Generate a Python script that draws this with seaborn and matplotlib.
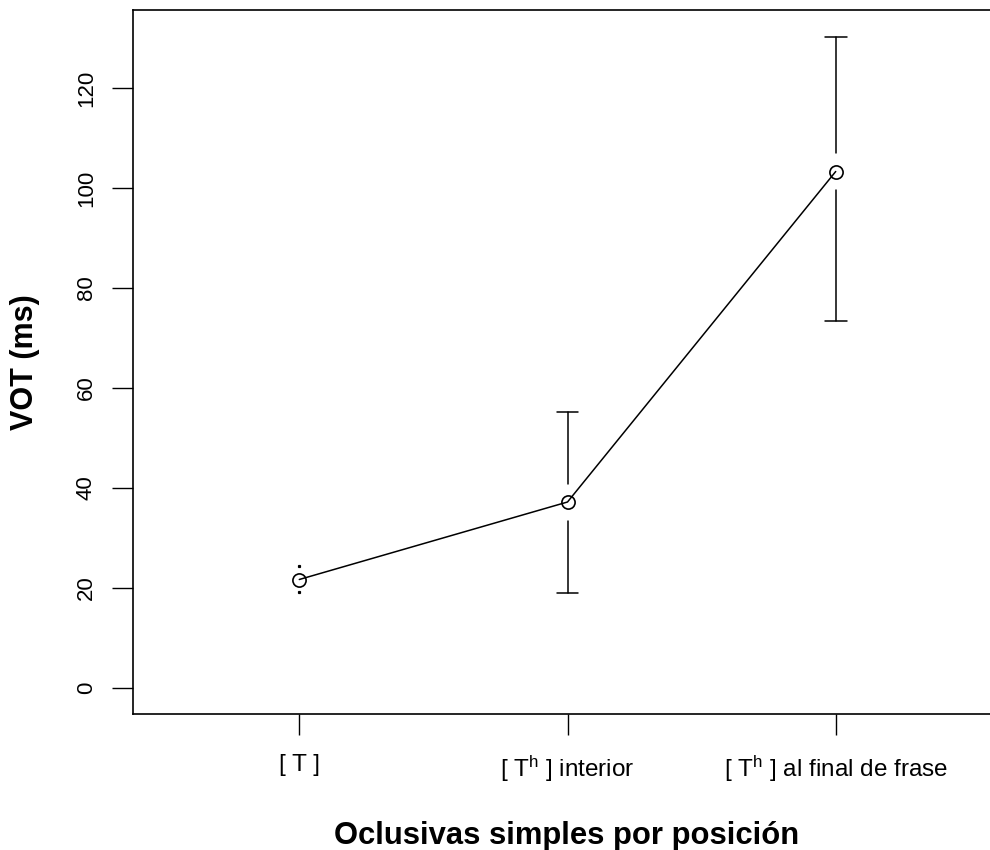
import numpy as np
import pandas as pd
import matplotlib
matplotlib.use("Agg")
import matplotlib.pyplot as plt
import seaborn as sns

categories = [r"[ T ]", r"[ T$^{\mathrm{h}}$ ] interior", r"[ T$^{\mathrm{h}}$ ] al final de frase"]
means = [21.7, 37.2, 103.3]
lower = [19.3, 19.1, 73.4]
upper = [24.4, 55.3, 130.3]
yticks = [0, 20, 40, 60, 80, 100, 120]

sns.set_theme(style="white")
plt.rcParams["font.family"] = ["Liberation Sans", "DejaVu Sans"]
plt.rcParams["mathtext.fontset"] = "custom"
plt.rcParams["mathtext.rm"] = "Liberation Sans"
plt.rcParams["mathtext.it"] = "Liberation Sans:italic"
plt.rcParams["mathtext.bf"] = "Liberation Sans:bold"
for k in ["text.color", "axes.labelcolor", "xtick.color", "ytick.color", "axes.edgecolor"]:
    plt.rcParams[k] = "black"

fig = plt.figure(figsize=(9.9, 8.5), dpi=100)
W, H = 990, 850
ax = fig.add_axes([133 / W, (H - 714) / H, (1002 - 133) / W, (714 - 10) / H])

pos = np.arange(len(categories))
df = pd.DataFrame({"x": pos, "y": means})
sns.lineplot(data=df, x="x", y="y", ax=ax, color="black", linewidth=1.1,
             marker="o", markersize=9.5, markerfacecolor="none",
             markeredgecolor="black", markeredgewidth=1.2)

gap = 3.7
cap = 0.041
for p, m, lo, hi in zip(pos, means, lower, upper):
    for end, sgn in ((hi, 1), (lo, -1)):
        if abs(end - m) > gap:
            ax.plot([p, p], [m + sgn * gap, end], color="black", lw=1.1)
            ax.plot([p - cap, p + cap], [end, end], color="black", lw=1.1)
        else:
            ax.plot([p], [end], marker="s", markersize=1.3, color="black", lw=0)

ax.set_xlim(-0.62, 2.62)
ax.set_ylim(-5.2, 135.6)
ax.set_xticks(pos)
ax.set_xticklabels(categories, fontsize=17.5)
ax.set_yticks(yticks)
ax.set_yticklabels([str(v) for v in yticks], fontsize=16, rotation=90, va="center")
ax.tick_params(axis="both", direction="out", length=15, width=1.0, color="black",
               left=True, bottom=True)
ax.tick_params(axis="y", pad=11)
ax.tick_params(axis="x", pad=14)
for s in ax.spines.values():
    s.set_color("black")
    s.set_linewidth(1.2)
    s.set_visible(True)

ax.set_xlabel("")
ax.set_ylabel("")
fig.text(567 / W, 1 - 844 / H, "Oclusivas simples por posición", fontsize=22.3,
         fontweight="bold", ha="center", va="baseline")
fig.text(25 / W, 1 - 362 / H, "VOT (ms)", fontsize=22, fontweight="bold",
         ha="center", va="center", rotation=90)

fig.savefig("out.png", dpi=100)
